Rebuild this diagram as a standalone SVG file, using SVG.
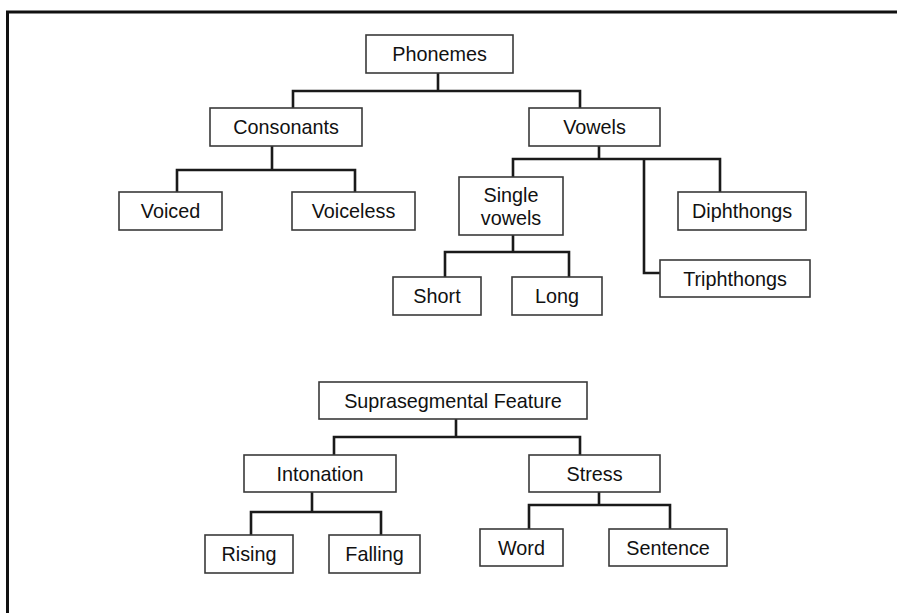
<svg xmlns="http://www.w3.org/2000/svg" width="897" height="613" viewBox="0 0 897 613">
<style>
.box{fill:#fff;stroke:#3a3a3a;stroke-width:1.6}
.lbl{font-family:"Liberation Sans",Arial,sans-serif;font-size:19.8px;fill:#111;text-anchor:middle}
.con{fill:none;stroke:#1a1a1a;stroke-width:2.6;stroke-linejoin:miter}
.frame{fill:none;stroke:#111;stroke-width:3}
</style>
<rect width="897" height="613" fill="#fff"/>
<path class="frame" d="M7.5,620 V12 H905"/>
<g id="connectors">
<path class="con" d="M438,73 V91 M293,108 V91 H580 V108"/>
<path class="con" d="M272,146 V170 M177,192 V170 H355 V192"/>
<path class="con" d="M599,146 V159 M513,177 V159 H720 V192 M644,159 V273 H660"/>
<path class="con" d="M513,235 V252 M445,277 V252 H569 V277"/>
<path class="con" d="M456,419 V437 M334,455 V437 H580 V455"/>
<path class="con" d="M312,492 V512 M251,535 V512 H381 V535"/>
<path class="con" d="M599,492 V505 M529,529 V505 H670 V529"/>
</g>
<g id="phonemes"><rect class="box" x="366" y="35" width="147" height="38"/><text class="lbl" x="439.5" y="61">Phonemes</text></g>
<g id="consonants"><rect class="box" x="210" y="108" width="152" height="38"/><text class="lbl" x="286" y="134">Consonants</text></g>
<g id="voiced"><rect class="box" x="119" y="192" width="103" height="38"/><text class="lbl" x="170.5" y="218">Voiced</text></g>
<g id="voiceless"><rect class="box" x="292" y="192" width="123" height="38"/><text class="lbl" x="353.5" y="218">Voiceless</text></g>
<g id="vowels"><rect class="box" x="529" y="108" width="131" height="38"/><text class="lbl" x="594.5" y="134">Vowels</text></g>
<g id="single-vowels"><rect class="box" x="459" y="177" width="104" height="58"/><text class="lbl" x="511" y="202">Single</text><text class="lbl" x="511" y="224.5">vowels</text></g>
<g id="short"><rect class="box" x="393" y="277" width="88" height="38"/><text class="lbl" x="437" y="303">Short</text></g>
<g id="long"><rect class="box" x="512" y="277" width="90" height="38"/><text class="lbl" x="557" y="303">Long</text></g>
<g id="diphthongs"><rect class="box" x="678" y="192" width="128" height="38"/><text class="lbl" x="742" y="218">Diphthongs</text></g>
<g id="triphthongs"><rect class="box" x="660" y="260" width="150" height="37"/><text class="lbl" x="735" y="285.5">Triphthongs</text></g>
<g id="suprasegmental"><rect class="box" x="319" y="382" width="268" height="37"/><text class="lbl" x="453" y="407.5">Suprasegmental Feature</text></g>
<g id="intonation"><rect class="box" x="244" y="455" width="152" height="37"/><text class="lbl" x="320" y="480.5">Intonation</text></g>
<g id="stress"><rect class="box" x="529" y="455" width="131" height="37"/><text class="lbl" x="594.5" y="480.5">Stress</text></g>
<g id="rising"><rect class="box" x="205" y="535" width="88" height="38"/><text class="lbl" x="249" y="561">Rising</text></g>
<g id="falling"><rect class="box" x="329" y="535" width="91" height="38"/><text class="lbl" x="374.5" y="561">Falling</text></g>
<g id="word"><rect class="box" x="480" y="529" width="83" height="37"/><text class="lbl" x="521.5" y="554.5">Word</text></g>
<g id="sentence"><rect class="box" x="609" y="529" width="118" height="37"/><text class="lbl" x="668" y="554.5">Sentence</text></g>
</svg>
